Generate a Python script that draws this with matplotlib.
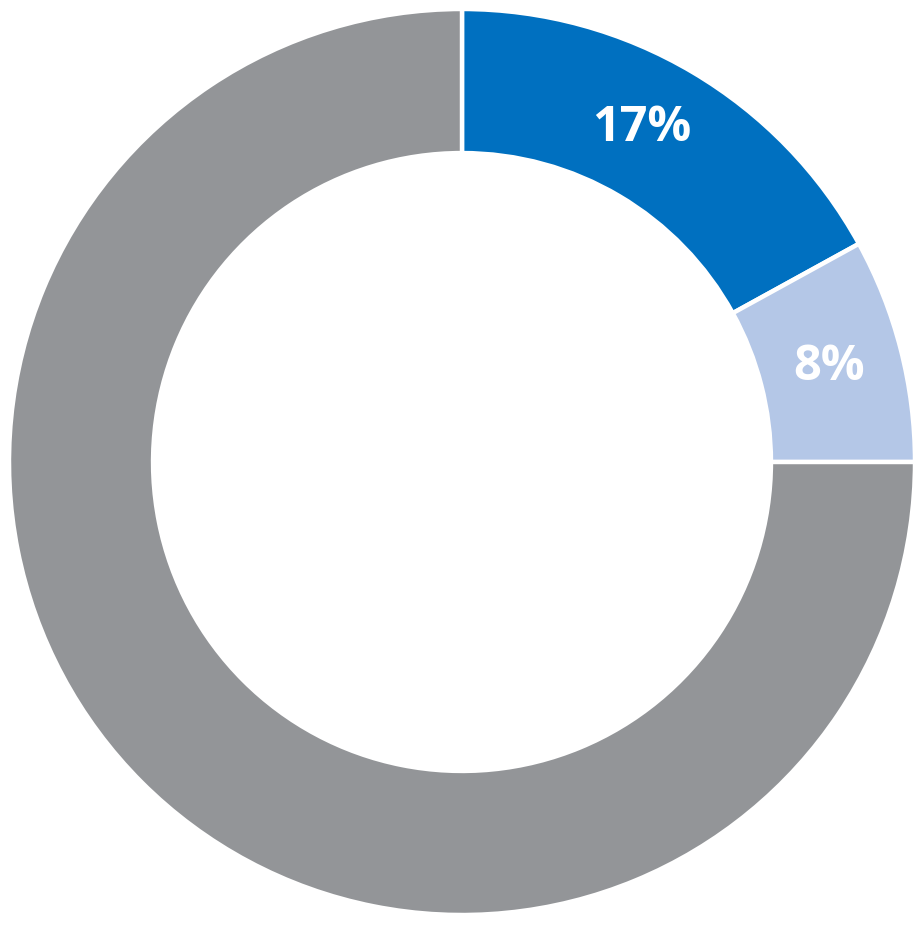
import matplotlib
matplotlib.use("Agg")
import matplotlib.pyplot as plt
import numpy as np

categories = ["A", "B", "C"]
values = [17, 8, 75]
labels = ["17%", "8%", ""]
colors = ["#0070C0", "#B4C7E7", "#939598"]

fig = plt.figure(figsize=(9.23, 9.25), dpi=100)
ax = fig.add_axes([0, 0, 1, 1])
wedges, texts = ax.pie(values, colors=colors, startangle=90, counterclock=False,
                       radius=1.0,
                       wedgeprops=dict(width=0.318, edgecolor="white", linewidth=3.2))
s = 453.0
angle_shift = [2.2, 0.0, 0.0]
for w, lab, sh in zip(wedges, labels, angle_shift):
    ang = np.deg2rad((w.theta1 + w.theta2) / 2 + sh)
    r = 0.836
    if lab:
        ax.text(r * np.cos(ang), r * np.sin(ang), lab, ha="center", va="center",
                color="white", fontsize=35, fontweight="bold", family=["Open Sans", "DejaVu Sans"])
ax.set_xlim(-462 / s, 461 / s)
ax.set_ylim(-463 / s, 462 / s)
ax.set_aspect("auto")
ax.axis("off")
fig.savefig("out.png", dpi=100, facecolor="white")
